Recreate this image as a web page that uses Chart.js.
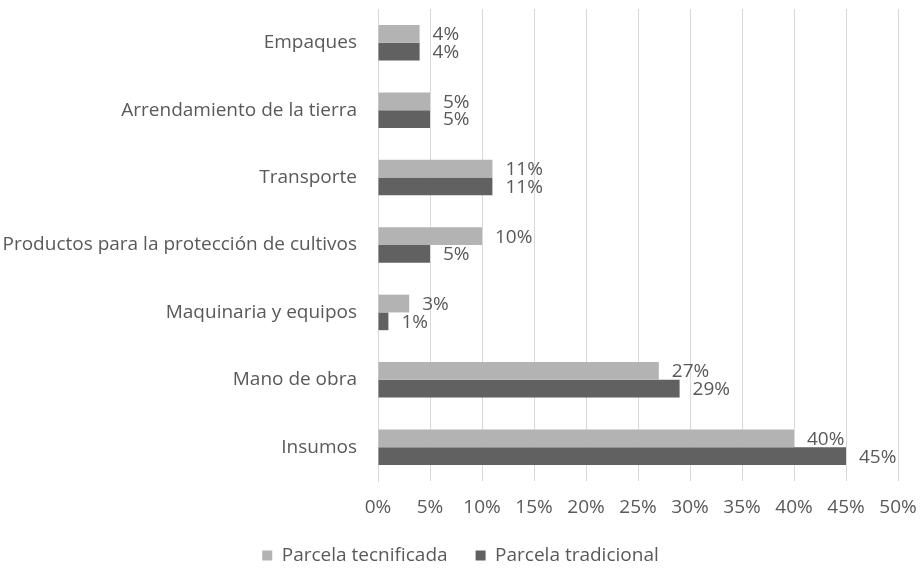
<!DOCTYPE html>
<html>
<head>
<meta charset="utf-8">
<script src="https://cdn.jsdelivr.net/npm/chart.js@4"></script>
<style>
  html, body { margin: 0; padding: 0; background: #fff; }
  #wrap { width: 921px; height: 568px; }
</style>
</head>
<body>
<div id="wrap"><canvas id="costChart" width="921" height="568"></canvas></div>
<script>
const categories = ['Empaques', 'Arrendamiento de la tierra', 'Transporte',
    'Productos para la protección de cultivos', 'Maquinaria y equipos',
    'Mano de obra', 'Insumos'];
const tecnificada = [4, 5, 11, 10, 3, 27, 40];   // % Parcela tecnificada
const tradicional = [4, 5, 11, 5, 1, 29, 45];    // % Parcela tradicional
const xTicks = [0, 5, 10, 15, 20, 25, 30, 35, 40, 45, 50];

const textColor = '#595959';
const fontFam = '"Open Sans", sans-serif';

// values written next to the end of each bar
const barLabels = {
    id: 'barLabels',
    afterDatasetsDraw(chart) {
        const ctx = chart.ctx;
        ctx.save();
        ctx.font = '19px ' + fontFam;
        ctx.fillStyle = textColor;
        ctx.textAlign = 'left';
        ctx.textBaseline = 'middle';
        chart.data.datasets.forEach((ds, i) => {
            chart.getDatasetMeta(i).data.forEach((bar, j) => {
                ctx.fillText(ds.data[j] + '%', bar.x + 13, bar.y + 1);
            });
        });
        ctx.restore();
    }
};

// legend padding is wide between the items; keep the legend box itself short
const legendTrim = {
    id: 'legendTrim',
    beforeLayout(chart) {
        const lg = chart.legend;
        if (lg && !lg._trimmed) {
            const fit = lg.fit;
            lg.fit = function () { fit.call(this); this.height = 50; };
            lg._trimmed = true;
        }
    }
};

new Chart(document.getElementById('costChart'), {
    type: 'bar',
    data: {
        labels: categories,
        datasets: [{
            label: 'Parcela tecnificada',
            data: tecnificada,
            backgroundColor: '#b3b3b3'
        }, {
            label: 'Parcela tradicional',
            data: tradicional,
            backgroundColor: '#616161'
        }]
    },
    options: {
        indexAxis: 'y',
        responsive: false,
        animation: false,
        datasets: {
            bar: { categoryPercentage: 0.527, barPercentage: 1.0 }
        },
        layout: { padding: { top: 9, right: 0, left: 0, bottom: 0 } },
        scales: {
            x: {
                min: 0,
                max: 50,
                afterBuildTicks: (axis) => { axis.ticks = xTicks.map(v => ({ value: v })); },
                ticks: {
                    callback: (v) => v + '%',
                    color: textColor,
                    font: { size: 19, family: fontFam },
                    padding: 15
                },
                grid: { color: '#d9d9d9', drawTicks: false },
                border: { display: false },
                afterFit: (axis) => {
                    axis.paddingLeft = 0;
                    axis.paddingRight = 23;
                    axis.height = 37;
                }
            },
            y: {
                ticks: {
                    color: textColor,
                    font: { size: 19, family: fontFam },
                    padding: 21
                },
                grid: { display: false, drawTicks: false },
                border: { display: true, color: '#d9d9d9' },
                afterFit: (axis) => {
                    axis.paddingTop = 0;
                    axis.paddingBottom = 0;
                    axis.width = 378;
                }
            }
        },
        plugins: {
            legend: {
                position: 'bottom',
                labels: {
                    color: textColor,
                    font: { size: 19, family: fontFam },
                    boxWidth: 10,
                    boxHeight: 10,
                    padding: 28
                }
            },
            tooltip: { enabled: false }
        }
    },
    plugins: [barLabels, legendTrim]
});
</script>
</body>
</html>
